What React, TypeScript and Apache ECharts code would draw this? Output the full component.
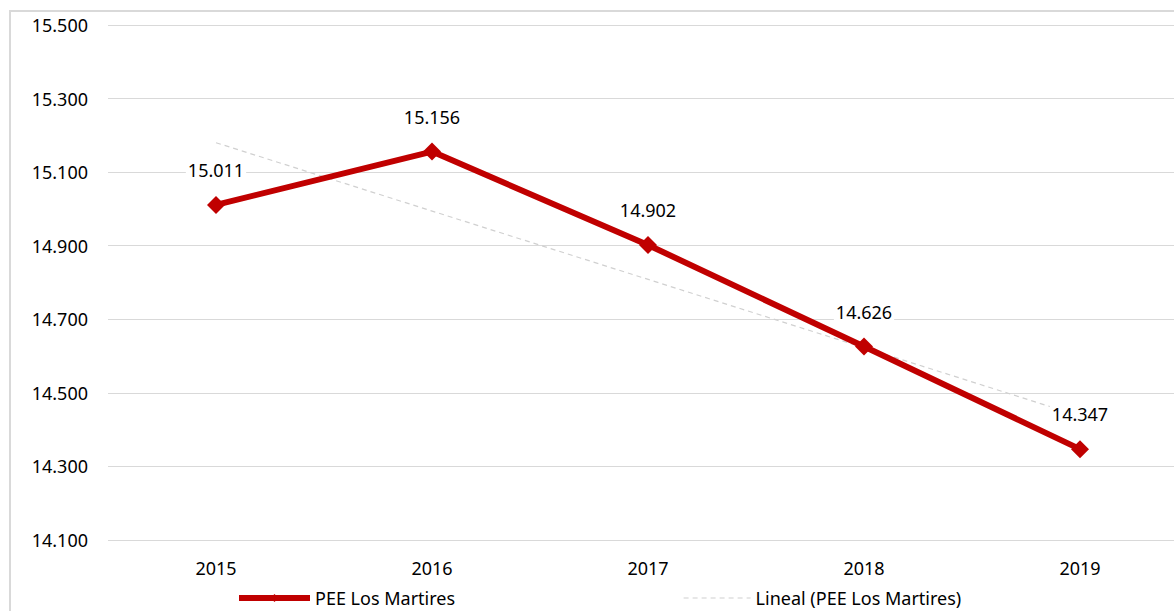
import React, { useEffect, useRef } from "react";
import * as echarts from "echarts";

const categories = ["2015", "2016", "2017", "2018", "2019"];
const peeValues = [15011, 15156, 14902, 14626, 14347];
const trendValues: (number | null)[] = [15180, null, null, null, 14437];
const yTicks = [14100, 14300, 14500, 14700, 14900, 15100, 15300, 15500];
const seriesName = "PEE Los Martires";
const trendName = "Lineal (PEE Los Martires)";

const fmt = (v: number) => {
  const t = Math.floor(v / 1000);
  const r = Math.round(v - t * 1000);
  return t + "." + String(r).padStart(3, "0");
};

const FONT = "'Noto Sans', 'Open Sans', sans-serif";

export default function App() {
  const ref = useRef<HTMLDivElement>(null);
  useEffect(() => {
    if (!ref.current) return;
    const chart = echarts.init(ref.current, null, { renderer: "svg" });
    chart.setOption({
      animation: false,
      backgroundColor: "#ffffff",
      textStyle: { fontFamily: FONT },
      graphic: [
        {
          type: "rect",
          silent: true,
          z: -10,
          shape: { x: 10, y: 11, width: 1400, height: 800 },
          style: { fill: "none", stroke: "#D9D9D9", lineWidth: 2 },
        },
      ],
      grid: {
        left: 108,
        top: 25,
        width: 1080,
        height: 515,
        containLabel: false,
        outerBoundsMode: "none",
      },
      legend: [
        {
          left: 231,
          top: 584,
          itemWidth: 71,
          itemHeight: 10,
          data: [seriesName],
          textStyle: { fontFamily: FONT, fontSize: 18, color: "#000" },
          lineStyle: { width: 6, color: "#C00000" },
          selectedMode: false,
        },
        {
          left: 678,
          top: 584,
          itemWidth: 67,
          itemHeight: 10,
          data: [trendName],
          textStyle: { fontFamily: FONT, fontSize: 18, color: "#000" },
          itemStyle: { color: "rgba(0,0,0,0)", borderWidth: 0, opacity: 0 },
          lineStyle: { color: "#D0D0D0", width: 1.2, type: [5, 4], opacity: 1 },
          selectedMode: false,
        },
      ],
      xAxis: {
        type: "category",
        data: categories,
        boundaryGap: true,
        axisLine: { show: false },
        axisTick: { show: false },
        axisLabel: { fontFamily: FONT, fontSize: 18, color: "#000", margin: 19 },
        splitLine: { show: false },
      },
      yAxis: {
        type: "value",
        min: yTicks[0],
        max: yTicks[yTicks.length - 1],
        interval: 100,
        axisLine: { show: false },
        axisTick: { show: false },
        splitLine: { show: false },
        axisLabel: {
          fontFamily: FONT,
          fontSize: 18,
          color: "#000",
          margin: 20,
          formatter: (v: number) => (yTicks.includes(Math.round(v)) ? fmt(v) : ""),
        },
      },
      series: [
        {
          name: trendName,
          type: "line",
          data: trendValues,
          connectNulls: true,
          showSymbol: false,
          symbol: "none",
          z: 1,
          lineStyle: { color: "#D0D0D0", width: 1.2, type: [5, 4] },
          itemStyle: { color: "#D0D0D0" },
          markLine: {
            silent: true,
            symbol: "none",
            label: { show: false },
            lineStyle: { color: "#D9D9D9", width: 1, type: "solid" },
            data: yTicks.map((t) => ({ yAxis: t })),
            z: 0,
          },
        },
        {
          name: seriesName,
          type: "line",
          data: peeValues,
          z: 3,
          symbol: "diamond",
          symbolSize: 18,
          lineStyle: { color: "#C00000", width: 6 },
          itemStyle: { color: "#C00000" },
          label: {
            show: true,
            position: "top",
            distance: 16,
            fontFamily: FONT,
            fontSize: 18,
            color: "#000",
            backgroundColor: "#ffffff",
            padding: [1, 2],
            formatter: (p: any) => fmt(peeValues[p.dataIndex]),
          },
        },
      ],
    });
    return () => chart.dispose();
  }, []);
  return (
    <div
      ref={ref}
      style={{ position: "absolute", left: 0, top: 0, width: 1174, height: 611 }}
    />
  );
}
